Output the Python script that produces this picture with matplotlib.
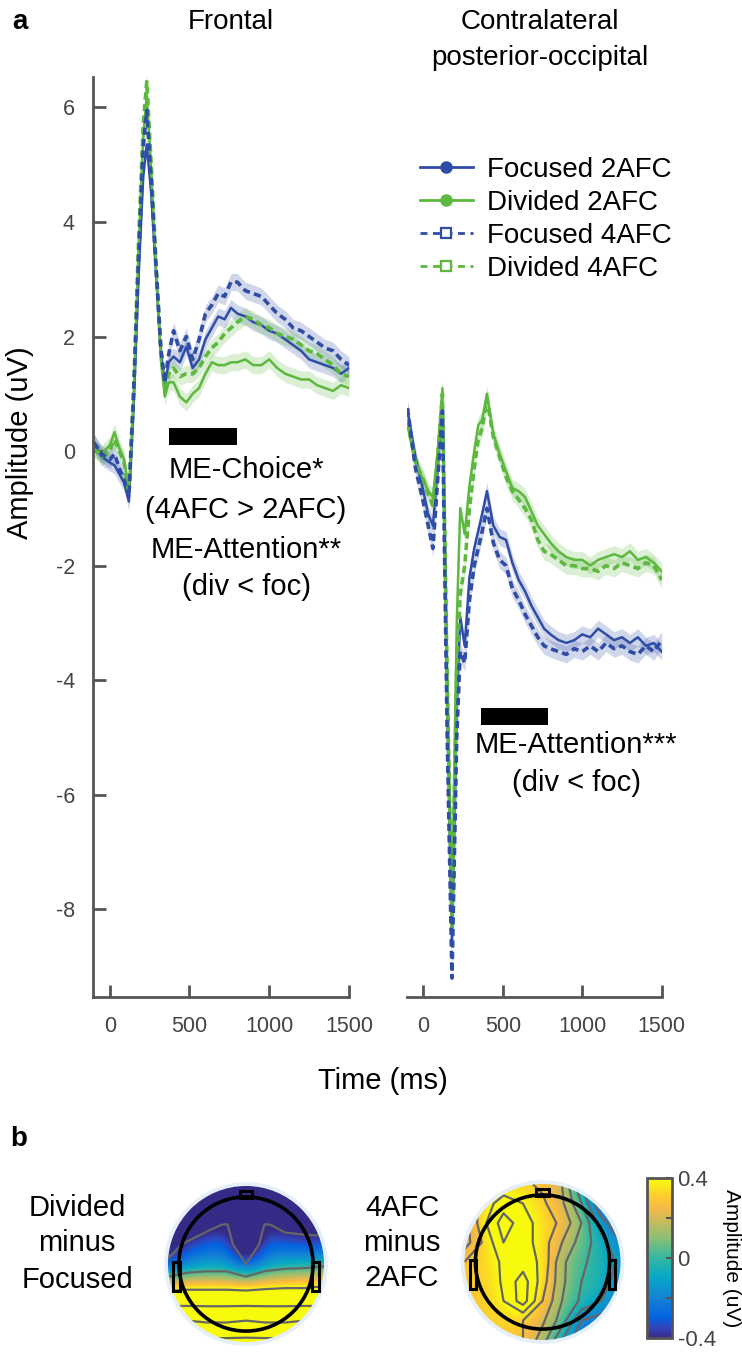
import numpy as np
import matplotlib.pyplot as plt
from matplotlib.colors import LinearSegmentedColormap, Normalize
from matplotlib.lines import Line2D
from matplotlib.patches import Circle, Rectangle
import matplotlib.cm as cm

plt.rcParams['font.family'] = ['Liberation Sans', 'DejaVu Sans']
plt.rcParams['axes.unicode_minus'] = False

# ---- ERP data (uV) ----
t = [-100, -50, 0, 30, 60, 90, 120, 150, 180, 210, 232, 260, 290, 320, 345, 370,
     400, 440, 480, 520, 560, 600, 640, 680, 720, 760, 800, 850, 900, 950, 1000,
     1050, 1100, 1150, 1200, 1250, 1300, 1350, 1400, 1450, 1500]

front_foc2 = [0.15, -0.1, -0.2, -0.25, -0.4, -0.55, -0.88, 0.8, 3.0, 4.8, 5.35, 4.5, 3.1, 1.7, 1.15, 1.55,
              1.65, 1.55, 1.82, 1.45, 1.6, 1.95, 2.15, 2.35, 2.3, 2.5, 2.4, 2.35, 2.25, 2.2, 2.1,
              2.05, 1.95, 1.85, 1.75, 1.6, 1.55, 1.5, 1.45, 1.35, 1.45]
front_div2 = [0.05, -0.05, 0.1, 0.33, 0.05, -0.15, -0.7, 1.0, 3.5, 5.5, 6.2, 4.9, 3.2, 1.6, 0.95, 1.2,
              1.2, 0.95, 0.85, 1.0, 1.1, 1.35, 1.55, 1.5, 1.5, 1.55, 1.55, 1.6, 1.5, 1.5, 1.6,
              1.45, 1.35, 1.3, 1.25, 1.25, 1.15, 1.1, 1.05, 1.15, 1.1]
front_foc4 = [0.15, -0.05, -0.15, -0.05, -0.3, -0.5, -0.8, 1.0, 3.3, 5.3, 5.95, 4.7, 3.2, 1.8, 1.2, 1.7,
              2.1, 1.75, 2.0, 1.6, 1.95, 2.4, 2.55, 2.75, 2.7, 2.95, 2.95, 2.8, 2.75, 2.7, 2.55,
              2.4, 2.3, 2.15, 2.1, 2.0, 1.9, 1.8, 1.75, 1.6, 1.5]
front_div4 = [0.05, -0.1, 0.0, 0.2, 0.0, -0.2, -0.75, 1.1, 3.6, 5.7, 6.45, 5.0, 3.3, 1.8, 1.1, 1.35,
              1.45, 1.3, 1.35, 1.35, 1.45, 1.65, 1.8, 1.9, 2.05, 2.15, 2.25, 2.35, 2.3, 2.2, 2.15,
              2.05, 2.0, 1.95, 1.85, 1.75, 1.7, 1.6, 1.5, 1.35, 1.3]

post_foc2 = [0.7, -0.1, -0.7, -1.1, -1.3, -0.3, 0.8, -4.5, -8.6, -4.5, -2.9, -3.4, -2.2, -1.7, -1.4, -1.1,
             -0.7, -1.3, -1.5, -1.55, -1.95, -2.25, -2.45, -2.7, -2.9, -3.1, -3.2, -3.3, -3.35, -3.3, -3.2,
             -3.25, -3.1, -3.2, -3.3, -3.25, -3.35, -3.25, -3.4, -3.35, -3.5]
post_div2 = [0.45, -0.2, -0.5, -0.7, -0.8, 0.0, 1.1, -3.8, -8.0, -3.0, -1.0, -1.45, -0.6, 0.0, 0.45, 0.55,
             1.0, 0.3, -0.05, -0.35, -0.65, -0.7, -0.8, -1.05, -1.3, -1.45, -1.6, -1.75, -1.85, -1.9, -1.9,
             -2.0, -1.9, -1.85, -1.8, -1.85, -1.75, -1.9, -1.85, -1.95, -2.1]
post_foc4 = [0.75, -0.3, -0.9, -1.3, -1.7, -0.5, 0.7, -5.0, -9.2, -5.0, -3.5, -3.7, -2.6, -2.0, -1.7, -1.4,
             -1.0, -1.6, -1.9, -2.0, -2.4, -2.6, -2.85, -3.05, -3.25, -3.4, -3.45, -3.5, -3.55, -3.45, -3.5,
             -3.4, -3.5, -3.35, -3.45, -3.4, -3.5, -3.55, -3.4, -3.5, -3.3]
post_div4 = [0.5, -0.2, -0.5, -0.75, -0.95, -0.1, 1.0, -4.0, -8.3, -3.8, -2.5, -2.0, -1.0, -0.3, 0.2, 0.4,
             0.9, 0.25, -0.1, -0.45, -0.7, -0.85, -1.0, -1.2, -1.55, -1.75, -1.8, -1.9, -2.0, -2.0, -2.05,
             -2.05, -2.1, -2.0, -2.05, -1.95, -2.0, -2.05, -1.95, -2.0, -2.25]

sem = 0.15
window_front = (370, 800)
window_post = (360, 785)

labels = ['Focused 2AFC', 'Divided 2AFC', 'Focused 4AFC', 'Divided 4AFC']

# ---- topography values (uV) on a 9x9 grid, front at top ----
div_minus_foc = np.array([
    [-0.9, -0.9, -0.9, -0.9, -0.9, -0.9, -0.9, -0.9, -0.9],
    [-0.8, -0.8, -0.8, -0.8, -0.8, -0.8, -0.8, -0.8, -0.8],
    [-0.45, -0.5, -0.45, -0.38, -0.7, -0.38, -0.45, -0.45, -0.45],
    [-0.45, -0.38, -0.3, -0.3, -0.6, -0.3, -0.32, -0.35, -0.36],
    [-0.38, -0.2, -0.15, -0.15, -0.4, -0.15, -0.1, -0.08, -0.05],
    [0.2, 0.25, 0.25, 0.25, 0.22, 0.27, 0.3, 0.3, 0.35],
    [0.72, 0.72, 0.72, 0.72, 0.72, 0.72, 0.72, 0.72, 0.72],
    [1.25, 1.25, 1.2, 1.2, 1.25, 1.2, 1.2, 1.25, 1.25],
    [1.7, 1.7, 1.7, 1.7, 1.7, 1.7, 1.7, 1.7, 1.7],
])
afc4_minus_2 = np.array([
    [0.25, 0.3, 0.33, 0.32, 0.28, 0.2, -0.1, -0.4, -0.5],
    [0.2, 0.35, 0.45, 0.4, 0.32, 0.22, 0.0, -0.3, -0.45],
    [0.15, 0.38, 0.55, 0.45, 0.35, 0.28, 0.1, -0.15, -0.3],
    [0.15, 0.32, 0.5, 0.45, 0.35, 0.2, 0.05, -0.05, -0.2],
    [0.3, 0.33, 0.42, 0.45, 0.38, 0.12, 0.02, -0.05, -0.12],
    [0.3, 0.3, 0.42, 0.55, 0.35, 0.12, 0.0, -0.05, -0.15],
    [0.3, 0.3, 0.4, 0.55, 0.3, 0.1, -0.02, -0.1, -0.2],
    [0.3, 0.3, 0.32, 0.3, 0.22, 0.05, -0.2, -0.25, -0.3],
    [0.3, 0.3, 0.3, 0.3, 0.15, -0.1, -0.3, -0.35, -0.4],
])
clim = (-0.4, 0.4)

# approx. parula colormap
par_idx = [0, 4, 8, 16, 24, 32, 40, 48, 52, 56, 63]
par_rgb = [(0.2081, 0.1663, 0.5292), (0.1959, 0.2645, 0.7279), (0.0117, 0.3875, 0.8820),
           (0.0793, 0.5200, 0.8312), (0.0228, 0.6535, 0.7768), (0.2178, 0.7250, 0.6193),
           (0.5709, 0.7485, 0.4494), (0.8507, 0.7299, 0.3360), (0.9739, 0.7314, 0.2666),
           (0.9880, 0.8066, 0.1794), (0.9763, 0.9831, 0.0538)]
parula = LinearSegmentedColormap.from_list('parula', list(zip([i / 63 for i in par_idx], par_rgb)))

BLUE = '#2F4DA6'
GREEN = '#5CB83E'
SPINE = '#555555'

W, H = 742, 1354
def fx(px):
    return px / W
def fy(py):
    return 1 - py / H

fig = plt.figure(figsize=(W / 100, H / 100), dpi=100)

ax1 = fig.add_axes([fx(93), fy(997), (349 - 93) / W, (997 - 77) / H])
ax2 = fig.add_axes([fx(406.7), fy(997), (661.7 - 406.7) / W, (997 - 77) / H])

def draw_erp(ax, foc2, div2, foc4, div4):
    series = [(foc2, BLUE, '-'), (div2, GREEN, '-'),
              (div4, GREEN, '--'), (foc4, BLUE, '--')]
    for vals, col, ls in series:
        v = np.array(vals)
        ax.fill_between(t, v - sem, v + sem, color=col, alpha=0.22, lw=0)
    for vals, col, ls in series:
        if ls == '-':
            ax.plot(t, vals, color=col, lw=1.8)
        else:
            ax.plot(t, vals, color=col, lw=2.6, ls=(0, (2, 1.2)))
    ax.set_xlim(-105, 1500)
    ax.set_ylim(-9.53, 6.53)
    ax.set_xticks([0, 500, 1000, 1500])
    for s in ['top', 'right']:
        ax.spines[s].set_visible(False)
    for s in ['left', 'bottom']:
        ax.spines[s].set_color(SPINE)
        ax.spines[s].set_linewidth(2)
    ax.tick_params(direction='in', length=9, width=2, color=SPINE,
                   labelsize=15.5, labelcolor='#444444')
    ax.tick_params(axis='x', pad=14)
    ax.tick_params(axis='y', pad=13)

draw_erp(ax1, front_foc2, front_div2, front_foc4, front_div4)
draw_erp(ax2, post_foc2, post_div2, post_foc4, post_div4)
ax1.set_yticks([-8, -6, -4, -2, 0, 2, 4, 6])
ax2.spines['left'].set_visible(False)
ax2.set_yticks([])

ax1.add_patch(Rectangle((window_front[0], 0.1), window_front[1] - window_front[0], 0.3,
                        color='k', lw=0))
ax2.add_patch(Rectangle((window_post[0], -4.78), window_post[1] - window_post[0], 0.29,
                        color='k', lw=0))

fs = 21
for txt, yy in zip(['ME-Choice*', '(4AFC > 2AFC)', 'ME-Attention**', '(div < foc)'],
                   [470, 510, 550, 587]):
    fig.text(fx(246), fy(yy), txt, fontsize=fs, ha='center', va='center')
for txt, yy in zip(['ME-Attention***', '(div < foc)'], [745, 783]):
    fig.text(fx(576), fy(yy), txt, fontsize=fs, ha='center', va='center')

fig.text(fx(231), fy(22), 'Frontal', fontsize=20, ha='center', va='center')
fig.text(fx(540), fy(22), 'Contralateral', fontsize=20, ha='center', va='center')
fig.text(fx(540), fy(58), 'posterior-occipital', fontsize=20, ha='center', va='center')
fig.text(fx(20), fy(443), 'Amplitude (uV)', fontsize=21, ha='center', va='center', rotation=90)
fig.text(fx(383), fy(1081), 'Time (ms)', fontsize=21, ha='center', va='center')
fig.text(fx(12), fy(22), 'a', fontsize=20, fontweight='bold', ha='left', va='center')
fig.text(fx(10), fy(1139), 'b', fontsize=20, fontweight='bold', ha='left', va='center')

handles = [
    Line2D([], [], color=BLUE, lw=2, marker='o', ms=8),
    Line2D([], [], color=GREEN, lw=2, marker='o', ms=8),
    Line2D([], [], color=BLUE, lw=2, ls=(0, (2.5, 2)), marker='s', ms=7, mfc='white', mew=1.6),
    Line2D([], [], color=GREEN, lw=2, ls=(0, (2.5, 2)), marker='s', ms=7, mfc='white', mew=1.6),
]
fig.legend(handles, labels, loc='upper left', bbox_to_anchor=(fx(420), fy(157)),
           frameon=False, fontsize=20, handlelength=1.9, handletextpad=0.5,
           labelspacing=0.25, borderpad=0, borderaxespad=0)

# ---- topographies ----
R = 78.0
gx = np.linspace(-1, 1, 9)
GX, GY = np.meshgrid(gx, gx[::-1])
h = 0.125

def draw_topo(cx, cy, grid, levels):
    half = 1.12 * R
    ax = fig.add_axes([fx(cx - half), fy(cy + half), 2 * half / W, 2 * half / H])
    ax.set_xlim(-1.12, 1.12)
    ax.set_ylim(-1.12, 1.12)
    ax.set_aspect('equal')
    ax.axis('off')
    ax.add_patch(Circle((0, 0), 1.05, fc='#E6F0FA', ec='none', zorder=0))
    im = ax.imshow(grid, extent=(-1 - h, 1 + h, -1 - h, 1 + h), cmap=parula,
                   vmin=clim[0], vmax=clim[1], interpolation='bicubic', origin='upper',
                   zorder=1)
    clip = Circle((0, 0), 1.0, transform=ax.transData)
    im.set_clip_path(clip)
    cs = ax.contour(GX, GY, grid, levels=levels, colors='#666666', linewidths=1.6,
                    linestyles='solid', zorder=2)
    cs.set_clip_path(clip)
    ax.add_patch(Circle((0, 0), 0.86, fill=False, ec='k', lw=2.6, zorder=3))
    ax.add_patch(Rectangle((-0.08, 0.84), 0.16, 0.09, fill=False, ec='k', lw=2.2, zorder=3))
    ax.add_patch(Rectangle((-0.93, -0.35), 0.08, 0.38, fill=False, ec='k', lw=2.2, zorder=3))
    ax.add_patch(Rectangle((0.85, -0.35), 0.08, 0.38, fill=False, ec='k', lw=2.2, zorder=3))
    return ax

draw_topo(246, 1264, div_minus_foc, [-0.4, 0.0, 0.4, 0.8, 1.2, 1.6])
draw_topo(542.5, 1262, afc4_minus_2, np.arange(-0.4, 0.6, 0.1))

for txt, yy in zip(['Divided', 'minus', 'Focused'], [1208, 1243, 1280]):
    fig.text(fx(77), fy(yy), txt, fontsize=fs, ha='center', va='center')
for txt, yy in zip(['4AFC', 'minus', '2AFC'], [1208, 1243, 1278]):
    fig.text(fx(402), fy(yy), txt, fontsize=fs, ha='center', va='center')

cax = fig.add_axes([fx(647), fy(1338), 25 / W, (1338 - 1178) / H])
sm = cm.ScalarMappable(norm=Normalize(*clim), cmap=parula)
cb = fig.colorbar(sm, cax=cax)
cb.set_ticks([-0.4, 0, 0.4])
cb.set_ticklabels(['-0.4', '0', '0.4'])
cb.ax.set_yticks([-0.2, 0.2], minor=True)
cb.outline.set_edgecolor(SPINE)
cb.outline.set_linewidth(2)
cax.tick_params(which='both', direction='in', color=SPINE, width=1.5, length=4,
                labelsize=16, labelcolor='#444444', pad=4)
fig.text(fx(731), fy(1258), 'Amplitude (uV)', fontsize=15, ha='center', va='center', rotation=270)

fig.savefig('out.png', dpi=100)
